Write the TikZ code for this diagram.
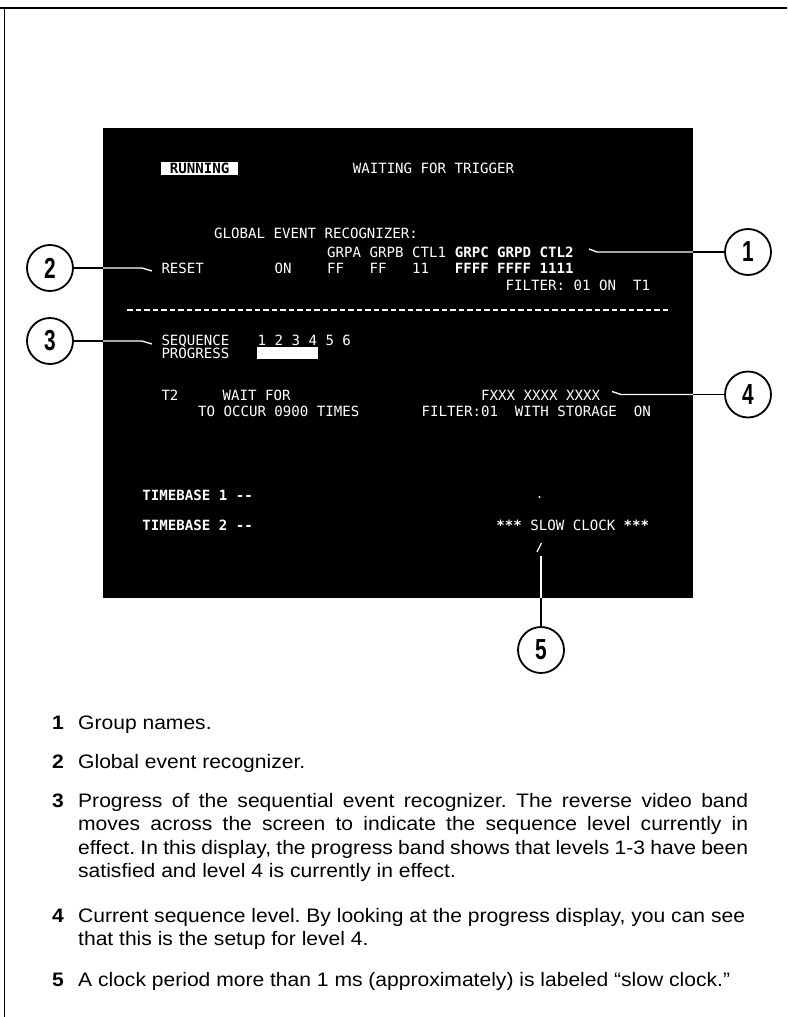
\documentclass[tikz,border=0pt]{standalone}
\usepackage{fontspec}
\setmainfont[FakeStretch=1.08]{Liberation Sans}
\newfontfamily\scrfont{DejaVu Sans Mono}
\newfontfamily\cnumfont[FakeStretch=0.72]{Liberation Sans}
\frenchspacing
\begin{document}
\begin{tikzpicture}[x=1pt,y=-1pt,
  scr/.style={text=white, font=\scrfont\fontsize{14.1}{14}\selectfont, anchor=base west, inner sep=0pt},
  scrb/.style={scr, font=\scrfont\bfseries\fontsize{14.1}{14}\selectfont},
  circ/.style={circle, draw=black, line width=1.8pt, minimum size=46pt, inner sep=0pt, font=\cnumfont\bfseries\fontsize{29}{29}\selectfont},
  leadw/.style={draw=white, line width=1.3pt},
  leadb/.style={draw=black, line width=1.3pt},
  body/.style={anchor=base west, inner sep=0pt, font=\fontsize{19.5}{23}\selectfont},
  num/.style={anchor=base east, inner sep=0pt, font=\bfseries\fontsize{19.5}{23}\selectfont}]
\useasboundingbox (0,0) rectangle (787,1017);
\fill[white] (0,0) rectangle (787,1017);
% frame
\draw[line width=2pt] (0,7.5) -- (787,7.5);
\draw[line width=1.5pt] (4.5,7.5) -- (4.5,1017);
% screen
\node[fill=black, inner sep=0pt, minimum width=590pt, minimum height=470pt, anchor=north west] (screen) at (103,128) {};
% header
\node[fill=white, text=black, minimum width=77pt, minimum height=13pt, inner sep=0pt, anchor=west, font=\scrfont\bfseries\fontsize{14.1}{14}\selectfont] (run) at (161,168) {RUNNING};
\node[scr] (wait) at (352.6,173.3) {WAITING FOR TRIGGER};
\node[scr] (glob) at (214,238.3) {GLOBAL EVENT RECOGNIZER:};
\node[scr] (grpa) at (327,257.3) {GRPA GRPB CTL1};
\node[scrb] (grpc) at (454.6,257.3) {GRPC GRPD CTL2};
\node[scr] (reset) at (161.3,273.3) {RESET};
\node[scr] (on) at (274.5,273.3) {ON};
\node[scr] (ff) at (327,273.3) {FF~~~FF~~~11};
\node[scrb] (ffff) at (454.6,273.3) {FFFF FFFF 1111};
\node[scr] (filt1) at (505.5,290.3) {FILTER: 01 ON~~T1};
\draw[white, line width=2pt, dash pattern=on 5.5pt off 3pt] (127,310) -- (671,310);
% sequence
\node[scr] (seq) at (161.3,345.3) {SEQUENCE};
\node[scr] (levels) at (257.4,345.3) {1 2 3 4 5 6};
\node[scr] (prog) at (161.3,358.3) {PROGRESS};
\fill[white] (257,346.5) rectangle (318,358.5);
% T2
\node[scr] (t2) at (161.3,400.3) {T2};
\node[scr] (waitfor) at (222.5,400.3) {WAIT FOR};
\node[scr] (occur) at (197.9,416.3) {TO OCCUR 0900 TIMES};
\node[scr] (fxxx) at (481,400.3) {FXXX XXXX XXXX};
\node[scr] (filt2) at (421.4,416.3) {FILTER:01~~WITH STORAGE~~ON};
% timebase
\node[scrb] (tb1) at (142.2,500.3) {TIMEBASE 1 --};
\fill[white] (539.5,497) circle (1.2pt);
\node[scrb] (tb2) at (142.2,530.3) {TIMEBASE 2 --};
\node[scr] (slow) at (496.2,530.3) {\textbf{***} SLOW CLOCK \textbf{***}};
% callout circles
\node[circ] (c1) at (748,252) {1};
\node[circ] (c2) at (50,268) {2};
\node[circ] (c3) at (50,341) {3};
\node[circ] (c4) at (748,394.5) {4};
\node[circ] (c5) at (541,650) {5};
% leaders
\coordinate (t1a) at (597,252); \coordinate (t1b) at (589,249);
\draw[leadw] (t1b) -- (t1a) -- (t1a -| screen.east);
\draw[leadb] (t1a -| screen.east) -- (c1.west);
\coordinate (t2a) at (142,268); \coordinate (t2b) at (152,271);
\draw[leadb] (c2.east) -- (t2a -| screen.west);
\draw[leadw] (t2a -| screen.west) -- (t2a) -- (t2b);
\coordinate (t3a) at (142,341); \coordinate (t3b) at (152,344);
\draw[leadb] (c3.east) -- (t3a -| screen.west);
\draw[leadw] (t3a -| screen.west) -- (t3a) -- (t3b);
\coordinate (t4a) at (621,394.5); \coordinate (t4b) at (612,391.5);
\draw[leadw] (t4b) -- (t4a) -- (t4a -| screen.east);
\draw[leadb] (t4a -| screen.east) -- (c4.west);
\coordinate (s5a) at (537,552); \coordinate (s5b) at (541.5,543);
\draw[leadw] (s5a) -- (s5b);
\coordinate (t5) at (541,556);
\draw[leadw] (t5) -- (t5 |- screen.south);
\draw[leadb] (t5 |- screen.south) -- (c5.north);
% description
\node[num] (n1) at (64,729.5) {1};
\node[body] (d1) at (78,729.5) {Group names.};
\node[num] (n2) at (64,768) {2};
\node[body] (d2) at (78,768) {Global event recognizer.};
\node[num] (n3) at (64,807) {3};
\node[body] (d3a) at (78,807) {\makebox[670pt][s]{Progress of the sequential event recognizer. The reverse video band}};
\node[body] (d3b) at (78,830.5) {\makebox[670pt][s]{moves across the screen to indicate the sequence level currently in}};
\node[body] (d3c) at (78,854) {\makebox[670pt][s]{effect. In this display, the progress band shows that levels 1-3 have been}};
\node[body] (d3d) at (78,877.5) {satisfied and level 4 is currently in effect.};
\node[num] (n4) at (64,922) {4};
\node[body] (d4a) at (78,922) {Current sequence level. By looking at the progress display, you can see};
\node[body] (d4b) at (78,945) {that this is the setup for level 4.};
\node[num] (n5) at (64,986.5) {5};
\node[body] (d5) at (78,986.5) {A clock period more than 1 ms (approximately) is labeled “slow clock.”};
\end{tikzpicture}
\end{document}
